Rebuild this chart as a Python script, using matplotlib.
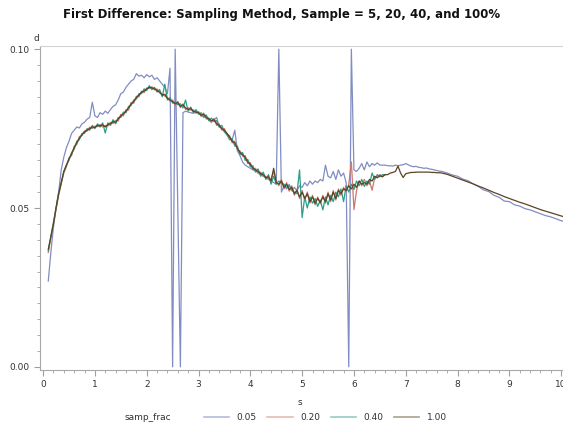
import numpy as np
import matplotlib
matplotlib.use("Agg")
import matplotlib.pyplot as plt
from matplotlib.ticker import MultipleLocator

# s grid: fine part 0.10..7.70 (step 0.05), smooth tail 7.80..10.10 (step 0.1)
s_fine = np.round(np.arange(0.10, 7.7001, 0.05), 2)
s_tail = np.round(np.arange(7.80, 10.1001, 0.10), 2)

# values in thousandths of d
d_005 = [
    27, 36, 44, 50, 55, 62, 66, 69, 71, 73.5,
    74.5, 75.5, 75.2, 76.5, 77, 78, 78.5, 83.3, 79, 78.5,
    80, 79.5, 80.5, 79.8, 81, 82, 82.5, 84, 86, 86.5,
    88, 89, 90, 90.5, 92.3, 91.5, 91.8, 91, 92, 91.3,
    91.8, 90.5, 91, 90, 89, 88, 86, 94, 0, 100,
    50, 0, 80, 80.5, 80.2, 80, 79.8, 80.5, 80, 79.5,
    78.5, 78.8, 77.5, 77, 77.8, 78.5, 75.5, 75, 74, 73.5,
    72.5, 71.5, 74.5, 68, 66.5, 64.5, 63.5, 63, 62.5, 62,
    61.8, 61, 60.5, 60, 59.5, 59, 58.5, 58, 57.5, 100,
    55, 57, 56, 57.5, 55.5, 56.5, 55.5, 57, 56.5, 58,
    57, 58.5, 57.5, 58.5, 58, 59, 58.5, 63.5, 60, 59.5,
    61.5, 59, 62, 60, 61, 58, 0, 100, 62, 61.5,
    62.5, 64, 62, 64.5, 63, 64, 63.5, 64.2, 63.5, 63.5,
    63.5, 63.3, 63.3, 63.2, 63.5, 63.3, 63.5, 63.6, 64, 63.6,
    63.2, 63, 63.1, 62.8, 62.7, 62.5, 62.6, 62.3, 62.2, 62,
    61.8, 61.6, 61.5,
    61.0, 60.4, 60.0, 59.1, 58.6, 57.6, 56.8, 55.7, 55.2, 54.0,
    53.4, 52.2, 52.0, 51.0, 50.6, 49.8, 49.4, 48.8, 48.2, 47.6,
    47.2, 46.6, 46.0, 45.5,
]

d_100 = [
    37, 41, 45, 50, 54.5, 58, 61.5, 63.5, 65.5, 67,
    69, 70.5, 72, 73, 74, 74.5, 75, 75.5, 75.3, 76,
    75.8, 76.2, 75.5, 76.3, 76.5, 77.2, 77, 78, 79, 79.6,
    80.5, 81.5, 82.8, 83.5, 84.8, 85.5, 86.5, 86.8, 87.5, 88,
    87.8, 87.5, 87, 86.5, 85.5, 85.8, 84.5, 84, 83.5, 82.8,
    83.2, 82, 82.5, 81.5, 81, 81.3, 80.5, 80.2, 80, 79.2,
    79.5, 78.5, 78, 77.5, 77.8, 76.5, 76, 75, 74.5, 73.5,
    72.3, 71, 70.5, 68.8, 67.5, 66.8, 66, 64.5, 63.8, 62.5,
    62, 61.5, 60.8, 60.5, 59.5, 59.8, 58.5, 62.5, 58, 57.5,
    58.5, 56.5, 57.5, 55.8, 56.5, 54.5, 55.5, 53.5, 55, 53,
    54.5, 52, 53.5, 51.5, 53, 51.8, 53.5, 52, 54.5, 52.5,
    55, 53, 55.5, 54.5, 56, 55.5, 57, 56, 57.5, 56.5,
    58.5, 57.5, 58, 57.5, 59, 58.5, 60, 59.5, 60.2, 59.8,
    60.5, 60.5, 61, 61.2, 61.5, 63.2, 61, 59.6, 60.8, 61,
    61.2, 61.2, 61.3, 61.3, 61.3, 61.3, 61.3, 61.3, 61.2, 61.2,
    61.1, 61.1, 61.0,
    60.6, 60.0, 59.4, 58.8, 58.2, 57.6, 56.9, 56.3, 55.6, 54.9,
    54.3, 53.6, 53.0, 52.4, 51.8, 51.3, 50.7, 50.1, 49.5, 49.0,
    48.5, 48.0, 47.5, 47.0,
]

# 0.20 and 0.40 samples, 0.10..6.60 (beyond that they sit under the 1.00 line)
d_020 = [
    36, 40.5, 45, 49.5, 54, 57.5, 61, 63, 65.8, 66.5,
    69.5, 70, 72.5, 72.8, 74.3, 74.2, 75.5, 75, 75.8, 75.6,
    76.3, 75.5, 76, 75.8, 77, 76.6, 77.6, 77.4, 79.5, 79,
    81, 80.8, 83.2, 83, 85.2, 85, 86.8, 86.3, 87.8, 87.6,
    88.2, 87.2, 87.5, 86.2, 86, 85.2, 84.8, 83.6, 84, 82.3,
    83.6, 81.6, 82.8, 81, 81.6, 80.8, 80.9, 79.8, 80.4, 78.8,
    79.9, 78, 78.4, 77, 78.2, 76, 76.5, 74.5, 75, 73,
    72.8, 70.5, 71, 68.3, 68, 66.3, 66.5, 64, 64.3, 62,
    62.5, 61, 61.3, 60, 60, 59.3, 59, 61.5, 58.5, 57,
    59, 56, 58, 55.3, 57, 54, 56, 53, 55.5, 52.5,
    55, 51.5, 54, 51, 53.5, 51.3, 54, 51.5, 55, 52,
    55.5, 52.5, 56, 54, 56.5, 55, 57.5, 64.5, 49.5, 55.5,
    58.5, 57, 59, 57, 58.5, 55.6, 59.5, 60, 60.5, 60,
    60.5,
]

d_040 = [
    36.5, 41, 45.5, 50, 54.5, 58, 61.5, 63.5, 65, 67.5,
    68.5, 71, 71.5, 73.5, 73.5, 75, 74.5, 76, 75, 76.5,
    75.5, 76.8, 73.6, 76.8, 76, 77.8, 76.5, 78.5, 78.5, 80.2,
    80, 82, 82.3, 84, 84.3, 86, 86, 87.5, 87, 88.5,
    87.3, 88, 86.5, 87.3, 85, 89, 84, 84.8, 83, 83.5,
    82.5, 82.8, 81.5, 84, 80.5, 81.8, 80, 81, 79.5, 80,
    78.8, 79.3, 77.5, 78.3, 77.2, 77.5, 75.5, 76, 74, 73,
    71.5, 71.8, 69.5, 69.5, 66.8, 67.5, 65, 65.3, 63, 63.3,
    61.3, 62.3, 60, 61.3, 59, 60.5, 57.5, 60, 57.5, 58.5,
    57.8, 57.5, 56.5, 57, 55.5, 55, 54.5, 62, 47, 53.5,
    50, 53.5, 51.5, 53, 50.5, 52.5, 49.4, 53.5, 51, 54,
    52, 55, 53.5, 56, 52, 57, 55, 57.5, 55.8, 58.5,
    57, 59, 56.8, 58.5, 57.5, 61, 59, 60.5, 59.8, 60.5,
    60.5,
]

labels = ["0.05", "0.20", "0.40", "1.00"]
colors = ["#6B79B8", "#D0776A", "#2E9C88", "#5C4322"]

s_all = np.concatenate([s_fine, s_tail])
s_part = s_fine[:len(d_020)]

fig = plt.figure(figsize=(5.63, 4.28), dpi=100)
ax = fig.add_axes([0.071, 0.1355, 0.935, 0.757])

ax.plot(s_all, np.array(d_005) / 1000, color=colors[0], lw=0.9, alpha=0.85, label=labels[0])
ax.plot(s_part, np.array(d_020) / 1000, color=colors[1], lw=0.9, label=labels[1])
ax.plot(s_part, np.array(d_040) / 1000, color=colors[2], lw=0.9, label=labels[2])
ax.plot(s_all, np.array(d_100) / 1000, color=colors[3], lw=0.9, label=labels[3])

ax.set_xlim(-0.06, 10.1)
ax.set_ylim(-0.001, 0.101)
ax.xaxis.set_major_locator(MultipleLocator(1))
ax.xaxis.set_minor_locator(MultipleLocator(0.2))
ax.yaxis.set_major_locator(MultipleLocator(0.05))
ax.yaxis.set_minor_locator(MultipleLocator(0.005))
ax.yaxis.set_major_formatter(plt.FormatStrFormatter("%.2f"))

for sp in ax.spines.values():
    sp.set_color("#D4D4D4")
    sp.set_linewidth(0.8)
ax.spines["left"].set_color("#A8A8A8")
ax.spines["bottom"].set_color("#A8A8A8")
ax.tick_params(which="both", colors="#A0A0A0", labelcolor="#333333", labelsize=6.5, direction="out")
ax.tick_params(which="major", length=4)
ax.tick_params(which="minor", length=2.5)

fig.text(0.5, 0.965, "First Difference: Sampling Method, Sample = 5, 20, 40, and 100%",
         ha="center", va="center", fontsize=8.5, fontweight="bold", color="#111111")
fig.text(0.064, 0.91, "d", ha="center", va="center", fontsize=6.5, color="#333333")
fig.text(0.533, 0.06, "s", ha="center", va="center", fontsize=6.5, color="#333333")
fig.text(0.262, 0.025, "samp_frac", ha="center", va="center", fontsize=6.5, color="#333333")

handles, _ = ax.get_legend_handles_labels()
leg = fig.legend(handles, labels, loc="center", bbox_to_anchor=(0.578, 0.025), ncol=4,
                 frameon=False, fontsize=6.5, handlelength=2.8, columnspacing=1.2,
                 handletextpad=0.8, labelcolor="#333333")
for line in leg.get_lines():
    line.set_alpha(0.5)
    line.set_linewidth(1.2)

fig.savefig("out.png", dpi=100)
